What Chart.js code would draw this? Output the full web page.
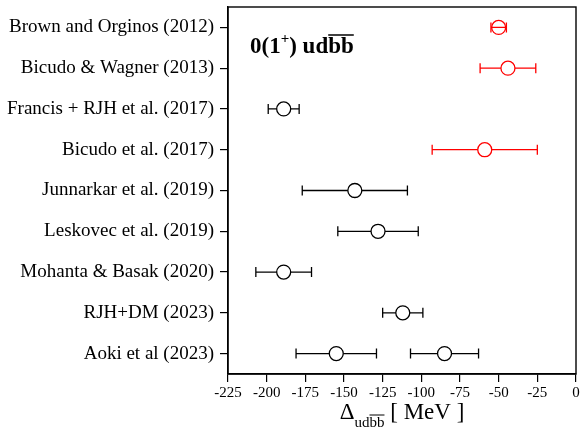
<!DOCTYPE html>
<html>
<head>
<meta charset="utf-8">
<script src="https://cdn.jsdelivr.net/npm/chart.js@4"></script>
<style>
  html, body { margin: 0; padding: 0; background: #fff; }
  #wrap { width: 581px; height: 429px; }
</style>
</head>
<body>
<div id="wrap"><canvas id="chart" width="581" height="429"></canvas></div>
<script>
// 研究ごとの結合エネルギー (MeV)
const studies = [
    'Brown and Orginos (2012)',
    'Bicudo & Wagner (2013)',
    'Francis + RJH et al. (2017)',
    'Bicudo et al. (2017)',
    'Junnarkar et al. (2019)',
    'Leskovec et al. (2019)',
    'Mohanta & Basak (2020)',
    'RJH+DM (2023)',
    'Aoki et al (2023)'
];
const central = [-50, -44, -189, -59, -143, -128, -189, -112, -155];
const errLow  = [-55, -62, -199, -93, -177, -154, -207, -125, -181];
const errHigh = [-45, -26, -179, -25, -109, -102, -171, -99, -129];
const highlighted = [true, true, false, true, false, false, false, false, false];

// Aoki et al の2つ目の値
const extraStudies = ['Aoki et al (2023)'];
const extraCentral = [-85];
const extraLow = [-107];
const extraHigh = [-63];

const xTicks = [-225, -200, -175, -150, -125, -100, -75, -50, -25, 0];

const RED = '#ff0000';
const BLACK = '#000000';
const SERIF = '"Liberation Serif", "DejaVu Serif", serif';
const R = 7;

const colors = highlighted.map(h => h ? RED : BLACK);

// エラーバーの描画
const errorBars = {
    id: 'errorBars',
    afterDatasetsDraw(chart) {
        const ctx = chart.ctx;
        const xs = chart.scales.x;
        chart.data.datasets.forEach((ds, d) => {
            const meta = chart.getDatasetMeta(d);
            meta.data.forEach((el, i) => {
                const lo = xs.getPixelForValue(ds.errLow[i]);
                const hi = xs.getPixelForValue(ds.errHigh[i]);
                const cx = el.x, cy = el.y;
                const col = Array.isArray(ds.pointBorderColor) ? ds.pointBorderColor[i] : ds.pointBorderColor;
                ctx.save();
                ctx.strokeStyle = col;
                ctx.lineWidth = 1.3;
                ctx.beginPath();
                if (hi - lo < 2.5 * R) {
                    ctx.moveTo(lo, cy); ctx.lineTo(hi, cy);
                } else {
                    ctx.moveTo(lo, cy); ctx.lineTo(cx - R, cy);
                    ctx.moveTo(cx + R, cy); ctx.lineTo(hi, cy);
                }
                ctx.moveTo(lo, cy - 5); ctx.lineTo(lo, cy + 5);
                ctx.moveTo(hi, cy - 5); ctx.lineTo(hi, cy + 5);
                ctx.stroke();
                ctx.restore();
            });
        });
    }
};

// 枠線、注記、x軸タイトル
const decorations = {
    id: 'decorations',
    afterDraw(chart) {
        const ctx = chart.ctx;
        const a = chart.chartArea;
        ctx.save();
        ctx.strokeStyle = BLACK;
        ctx.lineWidth = 1.4;
        ctx.strokeRect(a.left, a.top, a.right - a.left, a.bottom - a.top);

        // 注記 0(1+) udbb
        ctx.fillStyle = BLACK;
        ctx.textBaseline = 'alphabetic';
        ctx.textAlign = 'left';
        let x = a.left + 22;
        const by = a.top + 46;
        ctx.font = 'bold 23px ' + SERIF;
        ctx.fillText('0(1', x, by);
        x += ctx.measureText('0(1').width;
        ctx.font = 'bold 15px ' + SERIF;
        ctx.fillText('+', x, by - 10);
        x += ctx.measureText('+').width;
        ctx.font = 'bold 23px ' + SERIF;
        ctx.fillText(') ud', x, by);
        x += ctx.measureText(') ud').width;
        const bw = ctx.measureText('bb').width;
        ctx.fillText('bb', x, by);
        ctx.lineWidth = 1.5;
        ctx.beginPath();
        ctx.moveTo(x, by - 18); ctx.lineTo(x + bw, by - 18);
        ctx.stroke();

        // x軸タイトル Δ_udbb [ MeV ]
        const base = 419;
        ctx.font = '23px ' + SERIF;
        const wD = ctx.measureText('\u0394').width;
        const wM = ctx.measureText(' [ MeV ]').width;
        ctx.font = '15px ' + SERIF;
        const wUd = ctx.measureText('ud').width;
        const wBb = ctx.measureText('bb').width;
        const total = wD + wUd + wBb + wM;
        let tx = (a.left + a.right) / 2 - total / 2;
        ctx.font = '23px ' + SERIF;
        ctx.fillText('\u0394', tx, base);
        tx += wD;
        ctx.font = '15px ' + SERIF;
        ctx.fillText('ud', tx, base + 8);
        tx += wUd;
        ctx.fillText('bb', tx, base + 8);
        ctx.lineWidth = 1;
        ctx.beginPath();
        ctx.moveTo(tx, base - 4); ctx.lineTo(tx + wBb, base - 4);
        ctx.stroke();
        tx += wBb;
        ctx.font = '23px ' + SERIF;
        ctx.fillText(' [ MeV ]', tx, base);
        ctx.restore();
    }
};

const ctx = document.getElementById('chart').getContext('2d');
new Chart(ctx, {
    type: 'scatter',
    data: {
        datasets: [{
            data: studies.map((s, i) => ({ x: central[i], y: s })),
            errLow: errLow,
            errHigh: errHigh,
            pointRadius: R,
            pointHoverRadius: R,
            pointBorderWidth: 1.3,
            pointBorderColor: colors,
            pointBackgroundColor: 'rgba(0,0,0,0)',
            showLine: false
        }, {
            data: extraStudies.map((s, i) => ({ x: extraCentral[i], y: s })),
            errLow: extraLow,
            errHigh: extraHigh,
            pointRadius: R,
            pointHoverRadius: R,
            pointBorderWidth: 1.3,
            pointBorderColor: BLACK,
            pointBackgroundColor: 'rgba(0,0,0,0)',
            showLine: false
        }]
    },
    options: {
        responsive: false,
        animation: false,
        layout: { autoPadding: false, padding: { left: 0, top: 7, right: 5, bottom: 0 } },
        plugins: {
            legend: { display: false },
            tooltip: { enabled: false }
        },
        scales: {
            x: {
                type: 'linear',
                min: -225,
                max: 0,
                afterBuildTicks: s => { s.ticks = xTicks.map(v => ({ value: v })); },
                afterFit: s => { s.height = 55; s.paddingLeft = 0; s.paddingRight = 0; },
                grid: { drawOnChartArea: false, tickLength: 8, color: BLACK, lineWidth: 1.2 },
                border: { color: BLACK, width: 1.4 },
                ticks: { color: BLACK, font: { family: SERIF, size: 15 }, padding: 2, maxRotation: 0 }
            },
            y: {
                type: 'category',
                labels: studies,
                offset: true,
                afterFit: s => { s.width = 228; s.paddingTop = 0; s.paddingBottom = 0; },
                grid: { drawOnChartArea: false, tickLength: 8, color: BLACK, lineWidth: 1.2, offset: false },
                border: { color: BLACK, width: 1.4 },
                ticks: { color: BLACK, font: { family: SERIF, size: 19 }, padding: 6 }
            }
        }
    },
    plugins: [errorBars, decorations]
});
</script>
</body>
</html>
